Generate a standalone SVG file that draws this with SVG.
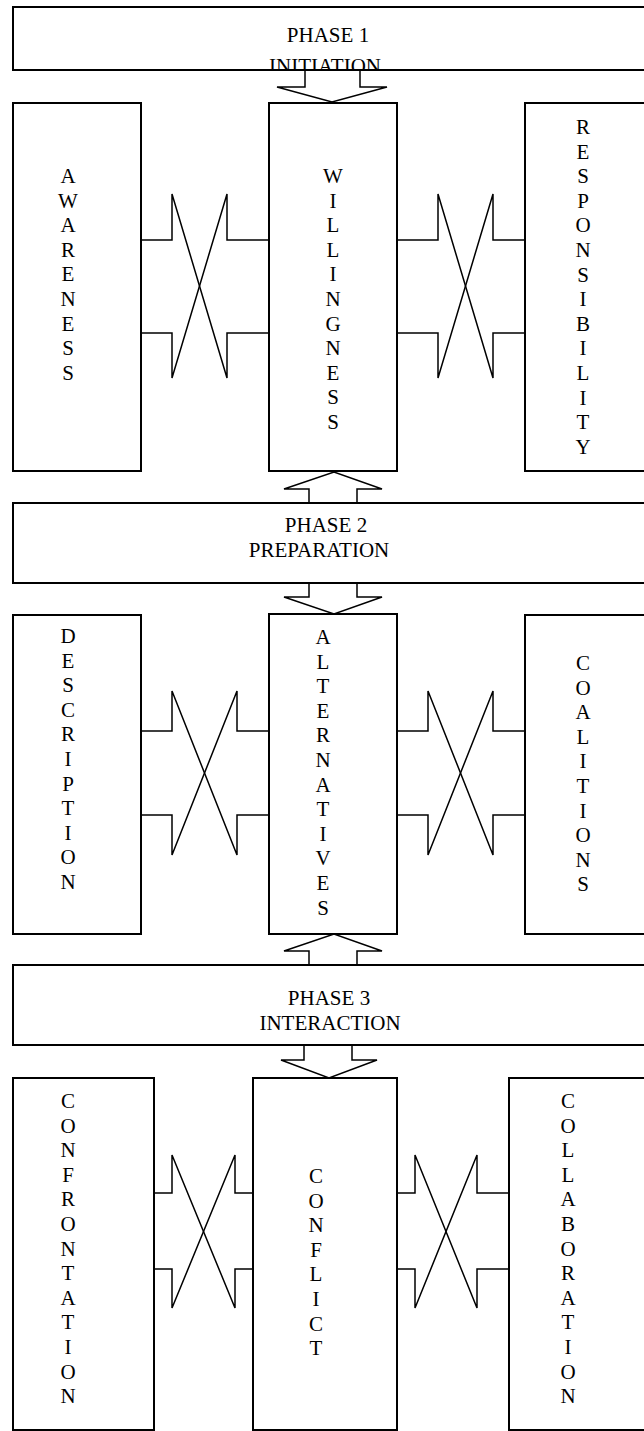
<svg xmlns="http://www.w3.org/2000/svg" width="644" height="1431" viewBox="0 0 644 1431">
  <style>
    .box { fill: #fff; stroke: #000; stroke-width: 2; }
    .arrow { fill: #fff; stroke: #000; stroke-width: 1.5; stroke-linejoin: miter; }
    .link { fill: none; stroke: #000; stroke-width: 1.5; }
    text { font-family: "Liberation Serif", "Times New Roman", serif; font-size: 21px; fill: #000; }
    .c { text-anchor: middle; }
  </style>
  <defs>
    <clipPath id="phase1-clip"><rect x="13" y="7" width="640" height="63"/></clipPath>
  </defs>
  <rect width="644" height="1431" fill="#fff"/>

  <!-- connectors: phase arrows and crossed double arrows -->
  <g id="connectors">
    <!-- phase 1 down to WILLINGNESS -->
    <path class="arrow" d="M305,70 V87 H277 L332,102 L387,87 H360 V70"/>
    <!-- WILLINGNESS up to phase 2 -->
    <path class="arrow" d="M309,503 V489 H284 L334,472 L382,489 H357 V503"/>
    <!-- phase 2 down to ALTERNATIVES -->
    <path class="arrow" d="M309,583 V597 H284 L334,614 L382,597 H357 V583"/>
    <!-- ALTERNATIVES up to phase 3 -->
    <path class="arrow" d="M309,965 V951 H284 L334,934 L382,951 H357 V965"/>
    <!-- phase 3 down to CONFLICT -->
    <path class="arrow" d="M304,1045 V1060 H281 L329,1078 L377,1060 H352 V1045"/>

    <!-- phase 1 crossings -->
    <path class="link" d="M141,240 H172 V194 L227,378 V333 H269"/>
    <path class="link" d="M141,333 H172 V378 L227,194 V240 H269"/>
    <path class="link" d="M397,240 H438 V194 L493,378 V333 H525"/>
    <path class="link" d="M397,333 H438 V378 L493,194 V240 H525"/>

    <!-- phase 2 crossings -->
    <path class="link" d="M141,731 H172 V691 L237,855 V815 H269"/>
    <path class="link" d="M141,815 H172 V855 L237,691 V731 H269"/>
    <path class="link" d="M397,731 H428 V691 L493,855 V815 H525"/>
    <path class="link" d="M397,815 H428 V855 L493,691 V731 H525"/>

    <!-- phase 3 crossings -->
    <path class="link" d="M154,1193 H172 V1155 L235,1308 V1269 H253"/>
    <path class="link" d="M154,1269 H172 V1308 L235,1155 V1193 H253"/>
    <path class="link" d="M397,1193 H415 V1155 L477,1308 V1269 H509"/>
    <path class="link" d="M397,1269 H415 V1308 L477,1155 V1193 H509"/>
  </g>

  <!-- phase 1 -->
  <g id="phase1">
    <rect class="box" x="13" y="7" width="640" height="63"/>
    <g clip-path="url(#phase1-clip)">
      <text class="c" x="328" y="42">PHASE 1</text>
      <text class="c" x="325" y="73">INITIATION</text>
    </g>
  </g>

  <g id="awareness">
    <rect class="box" x="13" y="103" width="128" height="368"/>
    <text class="c">
      <tspan x="68" y="183">A</tspan><tspan x="68" dy="24.6">W</tspan><tspan x="68" dy="24.6">A</tspan><tspan x="68" dy="24.6">R</tspan><tspan x="68" dy="24.6">E</tspan><tspan x="68" dy="24.6">N</tspan><tspan x="68" dy="24.6">E</tspan><tspan x="68" dy="24.6">S</tspan><tspan x="68" dy="24.6">S</tspan>
    </text>
  </g>

  <g id="willingness">
    <rect class="box" x="269" y="103" width="128" height="368"/>
    <text class="c">
      <tspan x="333" y="183">W</tspan><tspan x="333" dy="24.6">I</tspan><tspan x="333" dy="24.6">L</tspan><tspan x="333" dy="24.6">L</tspan><tspan x="333" dy="24.6">I</tspan><tspan x="333" dy="24.6">N</tspan><tspan x="333" dy="24.6">G</tspan><tspan x="333" dy="24.6">N</tspan><tspan x="333" dy="24.6">E</tspan><tspan x="333" dy="24.6">S</tspan><tspan x="333" dy="24.6">S</tspan>
    </text>
  </g>

  <g id="responsibility">
    <rect class="box" x="525" y="103" width="130" height="368"/>
    <text class="c">
      <tspan x="583" y="134">R</tspan><tspan x="583" dy="24.6">E</tspan><tspan x="583" dy="24.6">S</tspan><tspan x="583" dy="24.6">P</tspan><tspan x="583" dy="24.6">O</tspan><tspan x="583" dy="24.6">N</tspan><tspan x="583" dy="24.6">S</tspan><tspan x="583" dy="24.6">I</tspan><tspan x="583" dy="24.6">B</tspan><tspan x="583" dy="24.6">I</tspan><tspan x="583" dy="24.6">L</tspan><tspan x="583" dy="24.6">I</tspan><tspan x="583" dy="24.6">T</tspan><tspan x="583" dy="24.6">Y</tspan>
    </text>
  </g>

  <!-- phase 2 -->
  <g id="phase2">
    <rect class="box" x="13" y="503" width="640" height="80"/>
    <text class="c" x="326" y="532">PHASE 2</text>
    <text class="c" x="319" y="557">PREPARATION</text>
  </g>

  <g id="description">
    <rect class="box" x="13" y="615" width="128" height="319"/>
    <text class="c">
      <tspan x="68" y="643">D</tspan><tspan x="68" dy="24.6">E</tspan><tspan x="68" dy="24.6">S</tspan><tspan x="68" dy="24.6">C</tspan><tspan x="68" dy="24.6">R</tspan><tspan x="68" dy="24.6">I</tspan><tspan x="68" dy="24.6">P</tspan><tspan x="68" dy="24.6">T</tspan><tspan x="68" dy="24.6">I</tspan><tspan x="68" dy="24.6">O</tspan><tspan x="68" dy="24.6">N</tspan>
    </text>
  </g>

  <g id="alternatives">
    <rect class="box" x="269" y="614" width="128" height="320"/>
    <text class="c">
      <tspan x="323" y="644">A</tspan><tspan x="323" dy="24.6">L</tspan><tspan x="323" dy="24.6">T</tspan><tspan x="323" dy="24.6">E</tspan><tspan x="323" dy="24.6">R</tspan><tspan x="323" dy="24.6">N</tspan><tspan x="323" dy="24.6">A</tspan><tspan x="323" dy="24.6">T</tspan><tspan x="323" dy="24.6">I</tspan><tspan x="323" dy="24.6">V</tspan><tspan x="323" dy="24.6">E</tspan><tspan x="323" dy="24.6">S</tspan>
    </text>
  </g>

  <g id="coalitions">
    <rect class="box" x="525" y="615" width="130" height="319"/>
    <text class="c">
      <tspan x="583" y="670">C</tspan><tspan x="583" dy="24.6">O</tspan><tspan x="583" dy="24.6">A</tspan><tspan x="583" dy="24.6">L</tspan><tspan x="583" dy="24.6">I</tspan><tspan x="583" dy="24.6">T</tspan><tspan x="583" dy="24.6">I</tspan><tspan x="583" dy="24.6">O</tspan><tspan x="583" dy="24.6">N</tspan><tspan x="583" dy="24.6">S</tspan>
    </text>
  </g>

  <!-- phase 3 -->
  <g id="phase3">
    <rect class="box" x="13" y="965" width="640" height="80"/>
    <text class="c" x="329" y="1005">PHASE 3</text>
    <text class="c" x="330" y="1030">INTERACTION</text>
  </g>

  <g id="confrontation">
    <rect class="box" x="13" y="1078" width="141" height="352"/>
    <text class="c">
      <tspan x="68" y="1108">C</tspan><tspan x="68" dy="24.6">O</tspan><tspan x="68" dy="24.6">N</tspan><tspan x="68" dy="24.6">F</tspan><tspan x="68" dy="24.6">R</tspan><tspan x="68" dy="24.6">O</tspan><tspan x="68" dy="24.6">N</tspan><tspan x="68" dy="24.6">T</tspan><tspan x="68" dy="24.6">A</tspan><tspan x="68" dy="24.6">T</tspan><tspan x="68" dy="24.6">I</tspan><tspan x="68" dy="24.6">O</tspan><tspan x="68" dy="24.6">N</tspan>
    </text>
  </g>

  <g id="conflict">
    <rect class="box" x="253" y="1078" width="144" height="352"/>
    <text class="c">
      <tspan x="316" y="1183">C</tspan><tspan x="316" dy="24.6">O</tspan><tspan x="316" dy="24.6">N</tspan><tspan x="316" dy="24.6">F</tspan><tspan x="316" dy="24.6">L</tspan><tspan x="316" dy="24.6">I</tspan><tspan x="316" dy="24.6">C</tspan><tspan x="316" dy="24.6">T</tspan>
    </text>
  </g>

  <g id="collaboration">
    <rect class="box" x="509" y="1078" width="146" height="352"/>
    <text class="c">
      <tspan x="568" y="1108">C</tspan><tspan x="568" dy="24.6">O</tspan><tspan x="568" dy="24.6">L</tspan><tspan x="568" dy="24.6">L</tspan><tspan x="568" dy="24.6">A</tspan><tspan x="568" dy="24.6">B</tspan><tspan x="568" dy="24.6">O</tspan><tspan x="568" dy="24.6">R</tspan><tspan x="568" dy="24.6">A</tspan><tspan x="568" dy="24.6">T</tspan><tspan x="568" dy="24.6">I</tspan><tspan x="568" dy="24.6">O</tspan><tspan x="568" dy="24.6">N</tspan>
    </text>
  </g>
</svg>
